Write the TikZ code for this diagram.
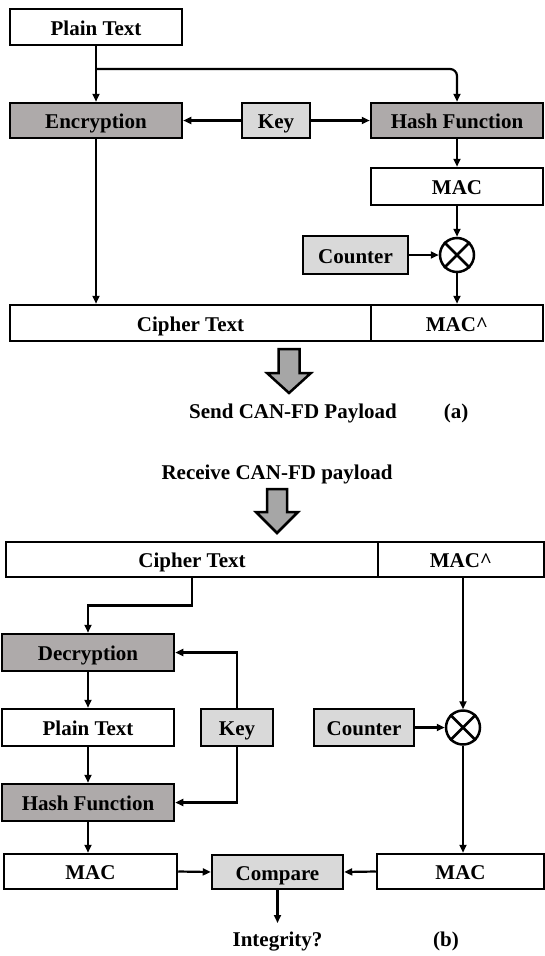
\documentclass[tikz,border=0pt]{standalone}
\usepackage{fontspec}
\setmainfont{Liberation Serif}
\usetikzlibrary{arrows.meta,calc}
\definecolor{darkfill}{HTML}{AEAAAA}
\definecolor{lightfill}{HTML}{D9D9D9}
\definecolor{blockfill}{HTML}{A6A6A6}
\tikzset{
  box/.style={draw, line width=2.5pt, inner sep=0pt, rectangle, font=\bfseries\fontsize{21}{25}\selectfont, fill=white, text height=18pt, text depth=2pt},
  dbox/.style={box, fill=darkfill},
  lbox/.style={box, fill=lightfill},
  arr/.style={line width=2.2pt, -{Triangle[length=8pt,width=7pt]}},
  xcirc/.style={draw, circle, line width=2.5pt, minimum size=34pt, inner sep=0pt, fill=white},
  lbl/.style={font=\bfseries\fontsize{21}{25}\selectfont, inner sep=0pt},
  blockarrow/.style={draw, line width=2.5pt, fill=blockfill, line join=miter}
}
\begin{document}
\begin{tikzpicture}[x=1pt, y=-1pt]
\useasboundingbox (0,0) rectangle (545,956);
% ---------- part (a) ----------
\node[box, minimum width=172pt, minimum height=36pt] (pt1) at (96,27) {Plain Text};
\node[dbox, minimum width=172pt, minimum height=35pt] (enc) at (96,120.5) {Encryption};
\node[lbox, minimum width=68pt, minimum height=35pt] (keya) at (276,120.5) {Key};
\node[dbox, minimum width=172pt, minimum height=35pt] (hasha) at (457,120.5) {Hash Function};
\node[box, minimum width=172pt, minimum height=37pt] (maca) at (457,186.5) {MAC};
\node[lbox, minimum width=105pt, minimum height=38pt] (ctra) at (355.5,255) {Counter};
\node[xcirc] (xa) at (457,255) {};
\draw[line width=2.5pt] (xa.north west) -- (xa.south east) (xa.north east) -- (xa.south west);
\node[box, minimum width=361pt, minimum height=36pt] (cta) at (190.5,323) {Cipher Text};
\node[box, minimum width=172pt, minimum height=36pt] (mhata) at (457,323) {MAC\^{}};

\draw[arr] (pt1.south) -- (enc.north);
\draw[arr, rounded corners=7pt] ($(pt1.south)!0.41!(enc.north)$) -| (hasha.north);
\draw[arr] (keya.west) -- (enc.east);
\draw[arr] (keya.east) -- (hasha.west);
\draw[arr] (hasha.south) -- (maca.north);
\draw[arr] (maca.south) -- (xa.north);
\draw[arr] (ctra.east) -- (xa.west);
\draw[arr] (xa.south) -- (mhata.north);
\draw[arr] (enc.south) -- (enc.south |- cta.north);

% block arrow (a)
\draw[blockarrow] (278.5,349) -- (299.5,349) -- (299.5,373) -- (311,373) -- (289,393) -- (267,373) -- (278.5,373) -- cycle;
\node[lbl] (send) at (293,413) {Send CAN-FD Payload};
\node[lbl] (la) at (456,413) {(a)};

% ---------- part (b) ----------
\node[lbl] (recv) at (277,474) {Receive CAN-FD payload};
\draw[blockarrow] (267,489) -- (287,489) -- (287,512) -- (298,512) -- (277,533) -- (256,512) -- (267,512) -- cycle;

\node[box, minimum width=372pt, minimum height=35pt] (ctb) at (192,559.5) {Cipher Text};
\node[box, minimum width=166pt, minimum height=35pt] (mhatb) at (461,559.5) {MAC\^{}};
\node[dbox, minimum width=172pt, minimum height=37pt] (dec) at (88,652.5) {Decryption};
\node[box, minimum width=172pt, minimum height=37pt] (ptb) at (88,727.5) {Plain Text};
\node[lbox, minimum width=72pt, minimum height=37pt] (keyb) at (237,727.5) {Key};
\node[lbox, minimum width=100pt, minimum height=37pt] (ctrb) at (364,727.5) {Counter};
\node[xcirc] (xb) at (463,727.5) {};
\draw[line width=2.5pt] (xb.north west) -- (xb.south east) (xb.north east) -- (xb.south west);
\node[dbox, minimum width=172pt, minimum height=37pt] (hashb) at (88,802.5) {Hash Function};
\node[box, minimum width=173pt, minimum height=35pt] (macbl) at (90.5,871.5) {MAC};
\node[lbox, minimum width=131pt, minimum height=34pt] (cmp) at (277.5,872) {Compare};
\node[box, minimum width=167pt, minimum height=35pt] (macbr) at (460.5,871.5) {MAC};
\coordinate (integ) at (277.5,923);
\node[lbl] (integtxt) at (277.5,942) {Integrity?};
\node[lbl] (lb) at (446,941) {(b)};

\draw[arr] (ctb.south) |- ($(ctb.south)!0.5!(dec.north)$) -| (dec.north);
\draw[arr] (dec.south) -- (ptb.north);
\draw[arr] (ptb.south) -- (hashb.north);
\draw[arr] (keyb.north) |- (dec.east);
\draw[arr] (keyb.south) |- (hashb.east);
\draw[arr] (xb.north |- mhatb.south) -- (xb.north);
\draw[arr] (ctrb.east) -- (xb.west);
\draw[arr] (xb.south) -- (xb.south |- macbr.north);
\draw[arr] (hashb.south) -- (hashb.south |- macbl.north);
\draw[arr] (macbl.east) -- (cmp.west);
\draw[arr] (macbr.west) -- (cmp.east);
\draw[arr] (cmp.south) -- (integ);
\end{tikzpicture}
\end{document}
